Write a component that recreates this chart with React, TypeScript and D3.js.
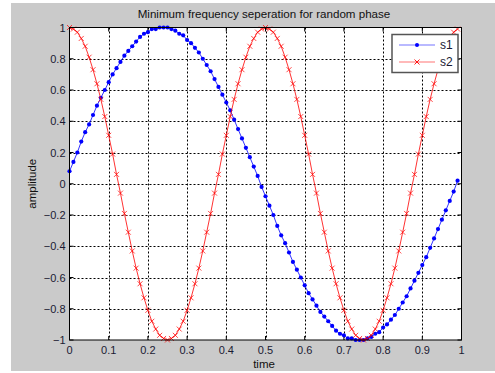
import React from "react";
import * as d3 from "d3";

const time = [
  0, 0.01, 0.02, 0.03, 0.04, 0.05, 0.06, 0.07, 0.08, 0.09,
  0.1, 0.11, 0.12, 0.13, 0.14, 0.15, 0.16, 0.17, 0.18, 0.19,
  0.2, 0.21, 0.22, 0.23, 0.24, 0.25, 0.26, 0.27, 0.28, 0.29,
  0.3, 0.31, 0.32, 0.33, 0.34, 0.35, 0.36, 0.37, 0.38, 0.39,
  0.4, 0.41, 0.42, 0.43, 0.44, 0.45, 0.46, 0.47, 0.48, 0.49,
  0.5, 0.51, 0.52, 0.53, 0.54, 0.55, 0.56, 0.57, 0.58, 0.59,
  0.6, 0.61, 0.62, 0.63, 0.64, 0.65, 0.66, 0.67, 0.68, 0.69,
  0.7, 0.71, 0.72, 0.73, 0.74, 0.75, 0.76, 0.77, 0.78, 0.79,
  0.8, 0.81, 0.82, 0.83, 0.84, 0.85, 0.86, 0.87, 0.88, 0.89,
  0.9, 0.91, 0.92, 0.93, 0.94, 0.95, 0.96, 0.97, 0.98, 0.99,
];

const s1 = [
  0.08, 0.14, 0.2, 0.27, 0.33, 0.38, 0.44, 0.5, 0.55, 0.6,
  0.65, 0.7, 0.74, 0.78, 0.82, 0.85, 0.88, 0.91, 0.94, 0.96,
  0.97, 0.99, 0.99, 1.0, 1.0, 1.0, 0.99, 0.98, 0.96, 0.95,
  0.92, 0.9, 0.87, 0.84, 0.8, 0.76, 0.72, 0.67, 0.62, 0.57,
  0.52, 0.47, 0.41, 0.35, 0.29, 0.23, 0.17, 0.11, 0.05, -0.02,
  -0.08, -0.14, -0.2, -0.27, -0.33, -0.38, -0.44, -0.5, -0.55, -0.6,
  -0.65, -0.7, -0.74, -0.78, -0.82, -0.85, -0.88, -0.91, -0.94, -0.96,
  -0.97, -0.99, -0.99, -1.0, -1.0, -1.0, -0.99, -0.98, -0.96, -0.95,
  -0.92, -0.9, -0.87, -0.84, -0.8, -0.76, -0.72, -0.67, -0.62, -0.57,
  -0.52, -0.47, -0.41, -0.35, -0.29, -0.23, -0.17, -0.11, -0.05, 0.02,
];

const s2 = [
  1.0, 0.99, 0.97, 0.93, 0.88, 0.81, 0.73, 0.64, 0.54, 0.43,
  0.31, 0.19, 0.06, -0.06, -0.19, -0.31, -0.43, -0.54, -0.64, -0.73,
  -0.81, -0.88, -0.93, -0.97, -0.99, -1.0, -0.99, -0.97, -0.93, -0.88,
  -0.81, -0.73, -0.64, -0.54, -0.43, -0.31, -0.19, -0.06, 0.06, 0.19,
  0.31, 0.43, 0.54, 0.64, 0.73, 0.81, 0.88, 0.93, 0.97, 0.99,
  1.0, 0.99, 0.97, 0.93, 0.88, 0.81, 0.73, 0.64, 0.54, 0.43,
  0.31, 0.19, 0.06, -0.06, -0.19, -0.31, -0.43, -0.54, -0.64, -0.73,
  -0.81, -0.88, -0.93, -0.97, -0.99, -1.0, -0.99, -0.97, -0.93, -0.88,
  -0.81, -0.73, -0.64, -0.54, -0.43, -0.31, -0.19, -0.06, 0.06, 0.19,
  0.31, 0.43, 0.54, 0.64, 0.73, 0.81, 0.88, 0.93, 0.97, 0.99,
];

const xTicks = [0, 0.1, 0.2, 0.3, 0.4, 0.5, 0.6, 0.7, 0.8, 0.9, 1];
const yTicks = [-1, -0.8, -0.6, -0.4, -0.2, 0, 0.2, 0.4, 0.6, 0.8, 1];
const seriesNames = ["s1", "s2"];
const title = "Minimum frequency seperation for random phase";
const xLabel = "time";
const yLabel = "amplitude";

const W = 495;
const H = 373;
const L = 69.5;
const R = 461.5;
const T = 27.5;
const B = 340;
const FONT = "Arial, 'Liberation Sans', sans-serif";

export default function App() {
  const x = d3.scaleLinear().domain([0, 1]).range([L, R]);
  const y = d3.scaleLinear().domain([-1, 1]).range([B, T]);
  const line = d3
    .line<number>()
    .x((_, i) => x(time[i]))
    .y((d) => y(d));

  const fmt = (v: number) => (v === 0 ? "0" : d3.format("")(Math.round(v * 10) / 10));

  return (
    <svg
      width={W}
      height={H}
      style={{ position: "absolute", left: 0, top: 0 }}
      xmlns="http://www.w3.org/2000/svg"
    >
      <rect x={0} y={0} width={W} height={H} fill="#ffffff" />
      <rect x={11} y={3} width={W - 11} height={368} fill="#cacaca" />
      <rect x={L} y={T} width={R - L} height={B - T} fill="#ffffff" />

      {/* grid */}
      {xTicks.slice(1, -1).map((t) => (
        <line
          key={"gx" + t}
          x1={Math.round(x(t)) + 0.5}
          x2={Math.round(x(t)) + 0.5}
          y1={T}
          y2={B}
          stroke="#000"
          strokeWidth={1}
          strokeDasharray="2,2"
        />
      ))}
      {yTicks.slice(1, -1).map((t) => (
        <line
          key={"gy" + t}
          x1={L}
          x2={R}
          y1={Math.round(y(t)) + 0.5}
          y2={Math.round(y(t)) + 0.5}
          stroke="#000"
          strokeWidth={1}
          strokeDasharray="2,2"
        />
      ))}

      {/* ticks */}
      {xTicks.map((t) => (
        <g key={"tx" + t}>
          <line x1={x(t)} x2={x(t)} y1={B} y2={B - 4} stroke="#000" />
          <line x1={x(t)} x2={x(t)} y1={T} y2={T + 4} stroke="#000" />
          <text
            x={x(t)}
            y={354}
            textAnchor="middle"
            fontFamily={FONT}
            fontSize={11}
            fill="#1a1a33"
          >
            {fmt(t)}
          </text>
        </g>
      ))}
      {yTicks.map((t) => (
        <g key={"ty" + t}>
          <line x1={L} x2={L + 4} y1={y(t)} y2={y(t)} stroke="#000" />
          <line x1={R} x2={R - 4} y1={y(t)} y2={y(t)} stroke="#000" />
          <text
            x={L - 4}
            y={y(t) + 4}
            textAnchor="end"
            fontFamily={FONT}
            fontSize={11}
            fill="#1a1a33"
          >
            {fmt(t)}
          </text>
        </g>
      ))}

      {/* series s1 */}
      <path d={line(s1) || ""} fill="none" stroke="#0000ff" strokeWidth={1} strokeOpacity={0.8} />
      {s1.map((v, i) => (
        <circle key={"p1" + i} cx={x(time[i])} cy={y(v)} r={2.1} fill="#0000ff" />
      ))}

      {/* series s2 */}
      <path d={line(s2) || ""} fill="none" stroke="#ff0000" strokeWidth={1} strokeOpacity={0.8} />
      {s2.map((v, i) => {
        const cx = x(time[i]);
        const cy = y(v);
        const s = 2.5;
        return (
          <path
            key={"p2" + i}
            d={`M${cx - s},${cy - s}L${cx + s},${cy + s}M${cx - s},${cy + s}L${cx + s},${cy - s}`}
            stroke="#ff0000"
            strokeWidth={0.9}
            strokeOpacity={0.8}
            fill="none"
          />
        );
      })}

      {/* axes box */}
      <rect x={L} y={T} width={R - L} height={B - T} fill="none" stroke="#000" strokeWidth={1} />

      {/* legend */}
      <g>
        <rect x={392} y={34.5} width={66} height={38} fill="#ffffff" stroke="#555" strokeWidth={1.5} />
        <line x1={399} x2={435} y1={45} y2={45} stroke="#0000ff" strokeOpacity={0.55} strokeWidth={1.2} />
        <circle cx={417} cy={45} r={2} fill="#0000ff" />
        <text x={440} y={49} fontFamily={FONT} fontSize={12} fill="#1a1a33">
          {seriesNames[0]}
        </text>
        <line x1={399} x2={435} y1={62} y2={62} stroke="#ff0000" strokeOpacity={0.55} strokeWidth={1.2} />
        <path d="M414.5,59.5L419.5,64.5M414.5,64.5L419.5,59.5" stroke="#ff0000" strokeWidth={0.9} />
        <text x={440} y={66} fontFamily={FONT} fontSize={12} fill="#1a1a33">
          {seriesNames[1]}
        </text>
      </g>

      {/* labels */}
      <text x={264} y={18} textAnchor="middle" fontFamily={FONT} fontSize={11.6} fill="#111">
        {title}
      </text>
      <text x={264} y={368} textAnchor="middle" fontFamily={FONT} fontSize={11.5} fill="#111">
        {xLabel}
      </text>
      <text
        transform={`translate(36,${(T + B) / 2}) rotate(-90)`}
        textAnchor="middle"
        fontFamily={FONT}
        fontSize={11.5}
        fill="#111"
      >
        {yLabel}
      </text>
    </svg>
  );
}
